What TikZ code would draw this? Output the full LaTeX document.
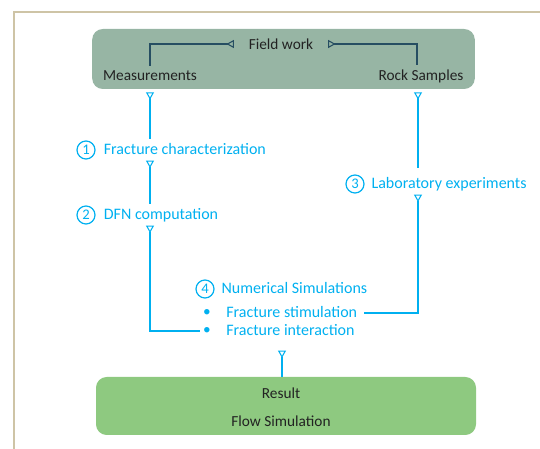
\documentclass[tikz,border=0pt]{standalone}
\usepackage{fontspec}
\setmainfont{Carlito}
\usetikzlibrary{arrows.meta,positioning,calc}
\definecolor{fieldgreen}{RGB}{151,181,164}
\definecolor{resultgreen}{RGB}{142,201,128}
\definecolor{stepblue}{RGB}{0,176,240}
\definecolor{darkline}{RGB}{38,78,98}
\definecolor{framebeige}{RGB}{206,196,166}
\definecolor{darktext}{RGB}{34,34,34}

\begin{document}
\begin{tikzpicture}[
  x=0.75pt, y=-0.75pt,
  every node/.style={font=\fontsize{11.5}{13}\selectfont, text=darktext},
  stepnum/.style={circle, draw=stepblue, line width=0.9pt, text=stepblue, inner sep=0pt, minimum size=13.5pt, font=\fontsize{11}{12}\selectfont},
  steptext/.style={text=stepblue, inner xsep=0pt, inner ysep=2pt, text height=9pt, text depth=2.5pt, font=\fontsize{12}{14}\selectfont},
  flow/.style={draw=stepblue, line width=1.1pt, {Triangle[open,reversed,length=5.5pt,width=6pt,line width=0.8pt,fill=white]}-},
  fieldlink/.style={draw=darkline, line width=1.1pt, {Triangle[open,reversed,length=5.5pt,width=6pt,line width=0.8pt,fill=fieldgreen]}-},
  panel/.style={rounded corners=8pt, draw=none}
]
  \useasboundingbox (0,0) rectangle (540,449);

  % Frame
  \draw[framebeige, line width=1.2pt] (540,12) -- (14,12) -- (14,449);

  % Field work panel
  \node[panel, fill=fieldgreen, minimum width=287pt, minimum height=45pt] (field) at (283.5,59) {};
  \node[inner xsep=11pt] (fieldwork) at (281,44) {Field work};
  \node (meas) at (150,76) {Measurements};
  \node (rock) at (421,76) {Rock Samples};
  \draw[fieldlink] (fieldwork.west) -| (meas.north);
  \draw[fieldlink] (fieldwork.east) -| ($(rock.north)+(-4,0)$);

  % Steps
  \node[stepnum] (n1) at (86,150) {1};
  \node[steptext, anchor=west, right=6pt of n1] (frac) {Fracture characterization};
  \node[stepnum] (n2) at (86,215) {2};
  \node[steptext, anchor=west, right=6pt of n2] (dfn) {DFN computation};
  \node[stepnum] (n3) at (355,184) {3};
  \node[steptext, anchor=west, right=5pt of n3] (lab) {Laboratory experiments};
  \node[stepnum] (n4) at (205,289) {4};
  \node[steptext, anchor=west, right=5pt of n4] (num) {Numerical Simulations};
  \node[text=stepblue, inner sep=0pt] (b1) at (207,313) {\textbullet};
  \node[steptext, anchor=west] (stim) at (226,313) {Fracture stimulation};
  \node[text=stepblue, inner sep=0pt] (b2) at (207,331) {\textbullet};
  \node[steptext, anchor=west] (inter) at (226,331) {Fracture interaction};

  % Result panel
  \node[panel, fill=resultgreen, minimum width=285pt, minimum height=43.5pt] (result) at (286,406) {};
  \node (restext) at (281,393) {Result};
  \node (flowsim) at (281,421) {Flow Simulation};

  % Flow connectors
  \coordinate (measout) at ($(field.south -| meas.south)+(0,3)$);
  \coordinate (rockout) at ($(field.south -| rock.south)+(-3,3)$);
  \coordinate (numout) at ($(inter.south -| restext.north)+(1,9)$);
  \draw[flow] (measout) -- (frac.north -| measout);
  \draw[flow] (frac.south -| measout) -- (dfn.north -| measout);
  \draw[flow, shorten >=2pt] (dfn.south -| measout) |- (b2.west);
  \draw[flow, shorten >=4pt] (rockout) -- (lab.north -| rockout);
  \draw[flow, shorten >=5pt] (lab.south -| rockout) |- (stim.east);
  \draw[flow] (numout) -- (result.north -| numout);
\end{tikzpicture}
\end{document}
